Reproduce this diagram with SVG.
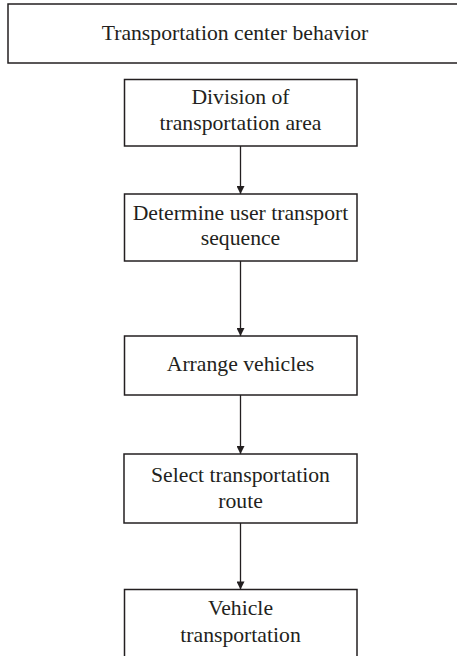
<svg xmlns="http://www.w3.org/2000/svg" width="457" height="656" viewBox="0 0 457 656">
<defs>
<style>
rect{fill:#fff;stroke:#231f20;stroke-width:1.5}
text{font-family:"Liberation Serif","Times New Roman",serif;font-size:21.7px;fill:#231f20;text-anchor:middle}
.c line{stroke:#231f20;stroke-width:1.3}
</style>
<marker id="ah" viewBox="0 0 10 10" refX="10" refY="5" markerWidth="9" markerHeight="8" markerUnits="userSpaceOnUse" orient="auto">
<path d="M0,0 L10,5 L0,10 z" fill="#231f20"/>
</marker>
</defs>
<rect x="0" y="0" width="457" height="656" style="fill:#fff;stroke:none"/>
<g id="n0"><rect x="8" y="4" width="460" height="59"/><text x="235" y="40">Transportation center behavior</text></g>
<g id="n1"><rect x="124.5" y="79.5" width="232.5" height="66.5"/><text x="240.5" y="103.5">Division of</text><text x="240.5" y="130">transportation area</text></g>
<g id="n2"><rect x="124.5" y="194" width="232.5" height="67"/><text x="240.5" y="220">Determine user transport</text><text x="240.5" y="245">sequence</text></g>
<g id="n3"><rect x="124.5" y="336" width="232.5" height="59"/><text x="240.5" y="371">Arrange vehicles</text></g>
<g id="n4"><rect x="124" y="454" width="233" height="69"/><text x="240.5" y="482">Select transportation</text><text x="240.5" y="507.5">route</text></g>
<g id="n5"><rect x="124.5" y="589.5" width="232.5" height="70"/><text x="240.5" y="615">Vehicle</text><text x="240.5" y="641.5">transportation</text></g>
<g class="c" id="connectors">
<line x1="240.5" y1="146" x2="240.5" y2="194" marker-end="url(#ah)"/>
<line x1="240.5" y1="261" x2="240.5" y2="336" marker-end="url(#ah)"/>
<line x1="240.5" y1="395" x2="240.5" y2="454" marker-end="url(#ah)"/>
<line x1="240.5" y1="523" x2="240.5" y2="589.5" marker-end="url(#ah)"/>
</g>
</svg>
